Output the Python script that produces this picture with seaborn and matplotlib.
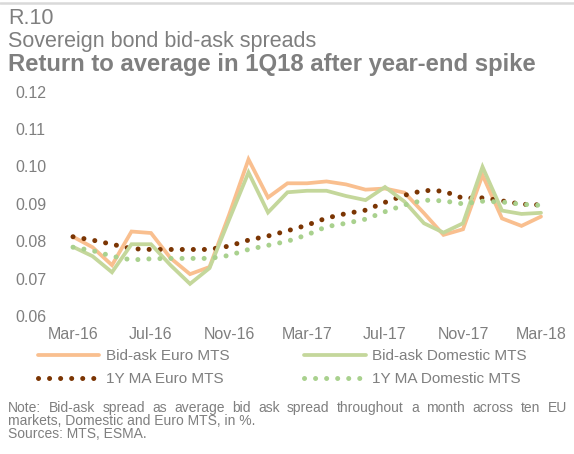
import matplotlib
matplotlib.use("Agg")
import matplotlib.pyplot as plt
import seaborn as sns
import pandas as pd
import numpy as np

months = ["Mar-16", "Apr-16", "May-16", "Jun-16", "Jul-16", "Aug-16", "Sep-16", "Oct-16",
          "Nov-16", "Dec-16", "Jan-17", "Feb-17", "Mar-17", "Apr-17", "May-17", "Jun-17",
          "Jul-17", "Aug-17", "Sep-17", "Oct-17", "Nov-17", "Dec-17", "Jan-18", "Feb-18", "Mar-18"]

bidask_euro = [0.0812, 0.0784, 0.0736, 0.0826, 0.0822, 0.0755, 0.0712, 0.0731, 0.0870, 0.1019,
               0.0917, 0.0955, 0.0955, 0.0960, 0.0952, 0.0938, 0.0941, 0.0930, 0.0875, 0.0817,
               0.0832, 0.0977, 0.0861, 0.0841, 0.0866]
bidask_dom = [0.0785, 0.0760, 0.0717, 0.0792, 0.0792, 0.0736, 0.0686, 0.0728, 0.0857, 0.0984,
              0.0877, 0.0931, 0.0935, 0.0935, 0.0921, 0.0910, 0.0945, 0.0906, 0.0848, 0.0823,
              0.0848, 0.0999, 0.0882, 0.0873, 0.0876]
ma_euro = [0.0812, 0.0803, 0.0792, 0.0780, 0.0778, 0.0778, 0.0778, 0.0778, 0.0787, 0.0803,
           0.0814, 0.0828, 0.0843, 0.0862, 0.0874, 0.0883, 0.0904, 0.0923, 0.0936, 0.0934,
           0.0915, 0.0916, 0.0908, 0.0899, 0.0897]
ma_dom = [0.0784, 0.0775, 0.0760, 0.0750, 0.0753, 0.0754, 0.0754, 0.0754, 0.0762, 0.0778,
          0.0789, 0.0800, 0.0817, 0.0839, 0.0848, 0.0859, 0.0879, 0.0897, 0.0910, 0.0908,
          0.0900, 0.0907, 0.0905, 0.0899, 0.0896]

series_names = ["Bid-ask Euro MTS", "Bid-ask Domestic MTS", "1Y MA Euro MTS", "1Y MA Domestic MTS"]
yticks = [0.06, 0.07, 0.08, 0.09, 0.10, 0.11, 0.12]
tick_every = 4

df = pd.DataFrame({"idx": np.arange(len(months)), "month": months,
                   series_names[0]: bidask_euro, series_names[1]: bidask_dom,
                   series_names[2]: ma_euro, series_names[3]: ma_dom})

sns.set_theme(style="white")
plt.rcParams["font.family"] = ["Liberation Sans", "DejaVu Sans"]

GREY = "#7f7f7f"
W, H = 574, 454
fig = plt.figure(figsize=(W / 100, H / 100), dpi=100)
ax = fig.add_axes([60 / W, 1 - 316 / H, 490 / W, (316 - 91.7) / H])

c_euro = "#f9bf8f"
c_dom = "#c4d79b"
c_ma_euro = "#7b3503"
c_ma_dom = "#a9d18e"

dots = (0, (0.01, 2.2))
sns.lineplot(data=df, x="idx", y=series_names[0], ax=ax, color=c_euro, linewidth=2.7,
             label=series_names[0], solid_joinstyle="miter")
sns.lineplot(data=df, x="idx", y=series_names[2], ax=ax, color=c_ma_euro, linewidth=3.6,
             linestyle=dots, dash_capstyle="round", label=series_names[2])
sns.lineplot(data=df, x="idx", y=series_names[1], ax=ax, color=c_dom, linewidth=2.7,
             label=series_names[1], solid_joinstyle="miter")
sns.lineplot(data=df, x="idx", y=series_names[3], ax=ax, color=c_ma_dom, linewidth=3.6,
             linestyle=dots, dash_capstyle="round", label=series_names[3])

px_per = 19.5
ax.set_xlim(-(73 - 60) / px_per, 24 + (550 - 541) / px_per)
ax.set_ylim(0.06, 0.12)
ax.set_yticks(yticks)
ax.set_yticklabels([f"{v:.2f}" for v in yticks])
ax.set_xticks(df["idx"][::tick_every])
ax.set_xticklabels(df["month"][::tick_every])
ax.tick_params(axis="both", length=0, labelsize=11.5, labelcolor=GREY)
ax.tick_params(axis="x", pad=8)
for lab in ax.get_yticklabels():
    lab.set_horizontalalignment("left")
ax.tick_params(axis="y", pad=(60 - 15) * 0.72)
ax.set_xlabel("")
ax.set_ylabel("")
for s in ax.spines.values():
    s.set_visible(False)
ax.grid(False)

handles, labels = ax.get_legend_handles_labels()
ax.get_legend().remove()
leg = fig.legend(handles, labels, ncol=2, loc="upper left",
                 bbox_to_anchor=(38 / W, 1 - 349 / H), frameon=False,
                 fontsize=11, handlelength=4.0, handletextpad=0.45,
                 columnspacing=4.9, labelspacing=0.6, borderpad=0, borderaxespad=0)
for t in leg.get_texts():
    t.set_color(GREY)

# top rule
fig.add_artist(plt.Line2D([0, 1], [1 - 2.5 / H, 1 - 2.5 / H], color="#d9d9d9", linewidth=1.8))

fig.text(8 / W, 1 - 24 / H, "R.10", fontsize=15.5, color=GREY, va="baseline")
fig.text(8 / W, 1 - 47 / H, "Sovereign bond bid-ask spreads", fontsize=15.5, color=GREY,
         va="baseline")
fig.text(8 / W, 1 - 71 / H, "Return to average in 1Q18 after year-end spike", fontsize=17.2,
         color=GREY, fontweight="bold", va="baseline")

note_fs = 10.0
note1 = "Note: Bid-ask spread as average bid ask spread throughout a month across ten EU"
# justified first line (as in the reference)
renderer = fig.canvas.get_renderer()
words = note1.split(" ")
x0, x1 = 8, 567
tmp = [fig.text(0, 0, w, fontsize=note_fs) for w in words]
widths = [t.get_window_extent(renderer).width for t in tmp]
for t in tmp:
    t.remove()
gap = (x1 - x0 - sum(widths)) / (len(words) - 1)
xx = x0
for w, wd in zip(words, widths):
    fig.text(xx / W, 1 - 412 / H, w, fontsize=note_fs, color=GREY, va="baseline")
    xx += wd + gap
fig.text(8 / W, 1 - 425 / H, "markets, Domestic and Euro MTS, in %.", fontsize=note_fs, color=GREY,
         va="baseline")
fig.text(8 / W, 1 - 438 / H, "Sources: MTS, ESMA.", fontsize=note_fs, color=GREY, va="baseline")

fig.savefig("out.png", dpi=100)
